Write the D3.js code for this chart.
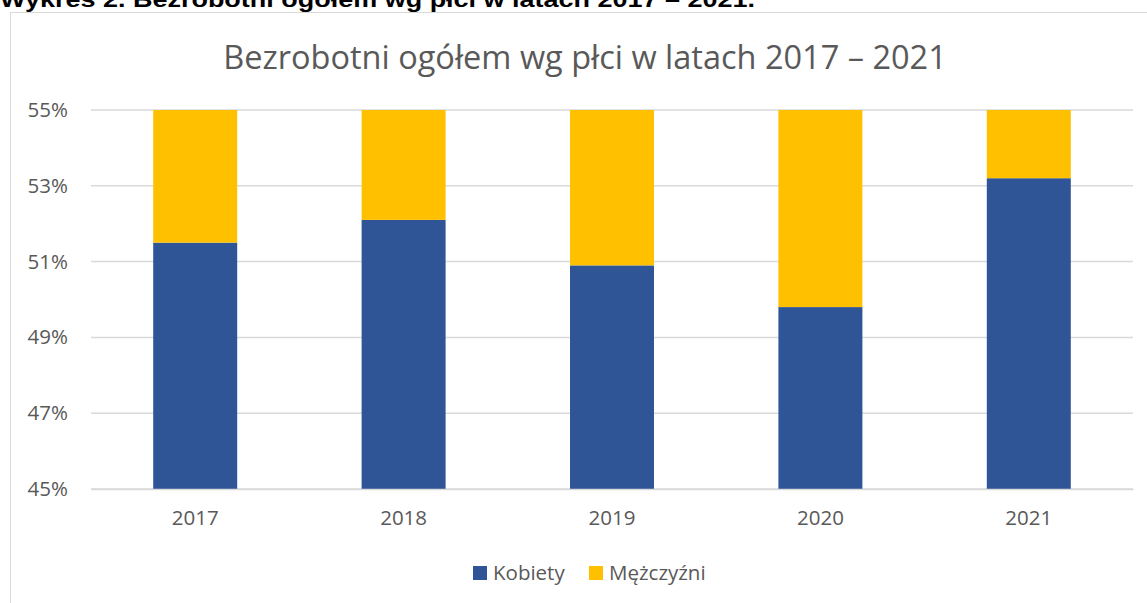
<!DOCTYPE html>
<html>
<head>
<meta charset="utf-8">
<script src="https://cdn.jsdelivr.net/npm/d3@7"></script>
<style>
  body { margin: 0; background: #fff; }
  svg { display: block; }
</style>
</head>
<body>
<svg></svg>
<script>
let years = ['2017', '2018', '2019', '2020', '2021']
let kobiety = [51.5, 52.1, 50.9, 49.8, 53.2]
let mezczyzni = [48.5, 47.9, 49.1, 50.2, 46.8]
let yTicks = [45, 47, 49, 51, 53, 55]
let seriesNames = ['Kobiety', 'Mężczyźni']
let colors = ['#2F5597', '#FFC000']

let width = 1147
let height = 603
let plotLeft = 91
let plotRight = 1133
let plotTop = 110
let plotBottom = 489

let svg = d3.select('svg')
    .attr('width', width)
    .attr('height', height)

// header above the chart frame, cut off at the top
svg.append('text')
    .attr('x', 0)
    .attr('y', 7)
    .attr('font-family', 'Liberation Sans, Arial, sans-serif')
    .attr('font-weight', 'bold')
    .attr('font-size', 22)
    .attr('textLength', 755)
    .attr('lengthAdjust', 'spacingAndGlyphs')
    .attr('fill', '#000')
    .text('Wykres 2. Bezrobotni ogółem wg płci w latach 2017 – 2021.')

svg.append('rect')
    .attr('x', 10.5)
    .attr('y', 12.5)
    .attr('width', width)
    .attr('height', height)
    .attr('fill', 'none')
    .attr('stroke', '#d9d9d9')

svg.append('text')
    .attr('x', 585)
    .attr('y', 69)
    .attr('text-anchor', 'middle')
    .attr('font-family', 'Open Sans, sans-serif')
    .attr('font-size', 32.5)
    .attr('fill', '#595959')
    .text('Bezrobotni ogółem wg płci w latach 2017 – 2021')

let xScale = d3.scaleBand()
    .domain(years)
    .range([plotLeft, plotRight])
    .paddingInner(0.597)
    .paddingOuter(0.2985)

let yScale = d3.scaleLinear()
    .domain([45, 55])
    .range([plotBottom, plotTop])

// gridlines
svg.append('g')
    .selectAll('line')
    .data(yTicks)
    .enter()
    .append('line')
    .attr('x1', plotLeft)
    .attr('x2', plotRight)
    .attr('y1', (d) => yScale(d))
    .attr('y2', (d) => yScale(d))
    .attr('stroke', '#d9d9d9')
    .attr('stroke-width', 1.5)

let rows = years.map((y, i) => ({ year: y, Kobiety: kobiety[i], 'Mężczyźni': mezczyzni[i] }))
let stack = d3.stack().keys(seriesNames)(rows)

svg.append('clipPath')
    .attr('id', 'plot-clip')
    .append('rect')
    .attr('x', plotLeft)
    .attr('y', plotTop)
    .attr('width', plotRight - plotLeft)
    .attr('height', plotBottom - plotTop)

let barsG = svg.append('g').attr('clip-path', 'url(#plot-clip)')

barsG.selectAll('g')
    .data(stack)
    .enter()
    .append('g')
    .attr('fill', (d, i) => colors[i])
    .selectAll('rect')
    .data((d) => d)
    .enter()
    .append('rect')
    .attr('x', (d) => xScale(d.data.year))
    .attr('width', xScale.bandwidth())
    .attr('y', (d) => yScale(Math.min(d[1], 60)))
    .attr('height', (d) => yScale(Math.max(d[0], 40)) - yScale(Math.min(d[1], 60)))

// y axis labels
let yAxis = d3.axisLeft(yScale)
    .tickValues(yTicks)
    .tickSize(0)
    .tickPadding(0)
    .tickFormat((d) => d + '%')

let yG = svg.append('g')
    .attr('transform', 'translate(68, 0)')
    .call(yAxis)
yG.select('.domain').remove()
yG.selectAll('text')
    .attr('font-family', 'Open Sans, sans-serif')
    .attr('font-size', 20.5)
    .attr('fill', '#595959')

// x axis
let xAxis = d3.axisBottom(xScale)
    .tickSize(0)
    .tickPadding(21)

let xG = svg.append('g')
    .attr('transform', 'translate(0, ' + plotBottom + ')')
    .call(xAxis)
xG.select('.domain')
    .attr('stroke', '#d9d9d9')
    .attr('stroke-width', 1.5)
xG.selectAll('text')
    .attr('font-family', 'Open Sans, sans-serif')
    .attr('font-size', 20.5)
    .attr('fill', '#595959')

// legend
let legendX = [473, 589]
let legend = svg.append('g')
    .selectAll('g')
    .data(seriesNames)
    .enter()
    .append('g')
    .attr('transform', (d, i) => 'translate(' + legendX[i] + ', 566)')
legend.append('rect')
    .attr('width', 14)
    .attr('height', 14)
    .attr('fill', (d, i) => colors[i])
legend.append('text')
    .attr('x', 20)
    .attr('y', 14)
    .attr('font-family', 'Open Sans, sans-serif')
    .attr('font-size', 20.5)
    .attr('fill', '#595959')
    .text((d) => d)
</script>
</body>
</html>
